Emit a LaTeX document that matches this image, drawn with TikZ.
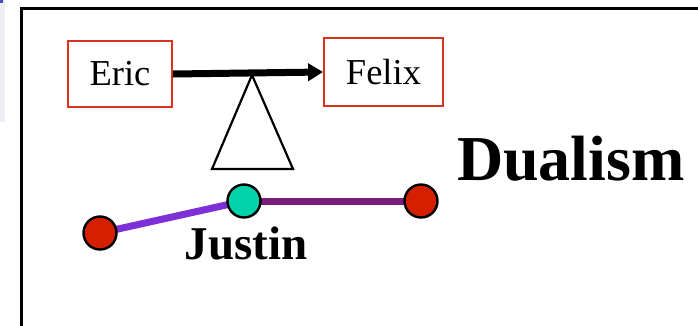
\documentclass[tikz,border=0pt]{standalone}
\usepackage{fontspec}
\setmainfont{Liberation Serif}
\usetikzlibrary{arrows.meta}
\definecolor{boxred}{HTML}{D9321F}
\definecolor{dotred}{HTML}{D42000}
\definecolor{dotgreen}{HTML}{00D2A9}
\definecolor{violetline}{HTML}{7D2FD8}
\definecolor{plumline}{HTML}{7A1C7A}
\definecolor{panelgray}{HTML}{ECEEF4}
\tikzset{
  namebox/.style={draw=boxred, line width=1.8pt, inner sep=0pt, font=\fontsize{36.5}{40}\selectfont},
  dot/.style={circle, draw=black, line width=2.4pt, minimum size=33pt, inner sep=0pt},
  bigword/.style={inner sep=0pt, anchor=base west, font=\bfseries\fontsize{64}{70}\selectfont},
  midword/.style={inner sep=0pt, anchor=base, font=\bfseries\fontsize{47}{50}\selectfont}
}
\begin{document}
\begin{tikzpicture}[x=1pt,y=-1pt]
\useasboundingbox (0,0) rectangle (698,325);
\clip (0,0) rectangle (698,325);
\fill[panelgray] (0,0) rectangle (4.5,122);
\fill[blue!60!black!70] (0,0) rectangle (2.5,3);
\draw[line width=3pt] (21.5,340) -- (21.5,8.5) -- (720,8.5);
\node[namebox, minimum width=104pt, minimum height=66pt] (eric) at (120,74) {Eric};
\node[namebox, minimum width=119pt, minimum height=68pt] (felix) at (383.5,72) {Felix};
\draw[line width=7pt, -{Triangle[length=15pt,width=17pt]}] (eric.east) -- (felix.west);
\draw[line width=2.2pt, line join=miter] (252,75) -- (212,169) -- (293,169) -- cycle;
\coordinate (pl) at (100,233);
\coordinate (pg) at (244,201);
\coordinate (pr) at (421,201);
\draw[violetline, line width=7pt] (pl) -- (pg);
\draw[plumline, line width=7pt] (pg) -- (pr);
\node[dot, fill=dotred] (left) at (pl) {};
\node[dot, fill=dotgreen] (justin) at (pg) {};
\node[dot, fill=dotred] (right) at (pr) {};
\node[midword] (jlabel) at (246,259) {Justin};
\node[bigword] (dualism) at (457,180) {Dualism};
\end{tikzpicture}
\end{document}
